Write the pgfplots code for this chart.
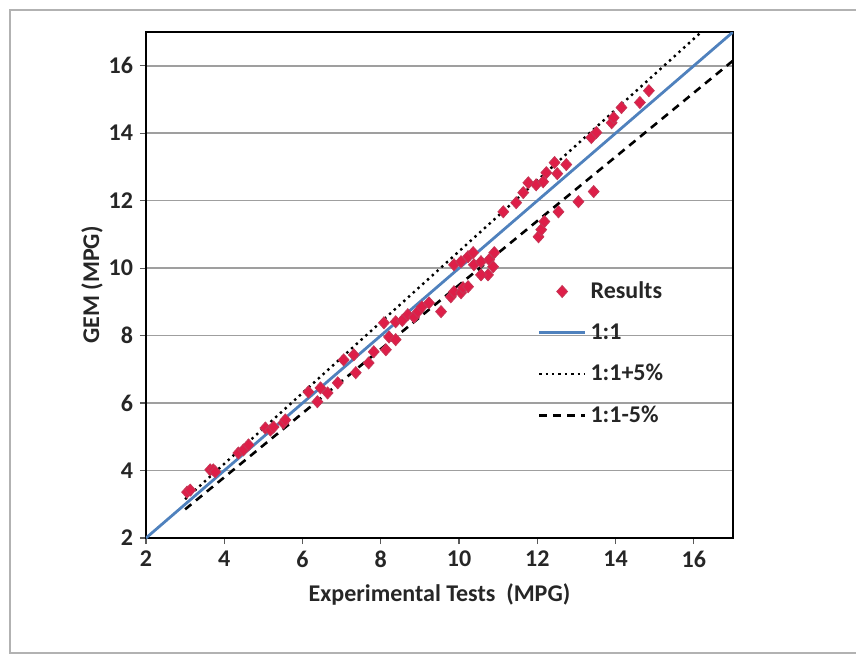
\documentclass[border=0pt]{standalone}
\usepackage{fontspec}
\setmainfont{Carlito}
\usepackage{pgfplots}
\pgfplotsset{compat=1.18}

\definecolor{ptred}{RGB}{222,30,72}
\definecolor{lineblue}{RGB}{79,129,189}

\pgfplotsset{
    gem line legend/.style={legend image code/.code={\draw[##1] (0pt,0pt) -- (23pt,0pt);}},
    gem mark legend/.style={legend image code/.code={\draw[##1] plot coordinates {(11.5pt,0pt)};}},
}

\pgfplotstableread{
x y
3.05 3.36
3.13 3.42
3.64 4.02
3.72 4.02
3.77 3.96
4.36 4.52
4.49 4.61
4.62 4.76
5.05 5.26
5.18 5.20
5.26 5.29
5.51 5.41
5.56 5.50
6.15 6.33
6.38 6.04
6.46 6.45
6.64 6.30
6.90 6.60
7.05 7.28
7.31 7.43
7.36 6.90
7.69 7.19
7.82 7.52
8.08 8.38
8.13 7.58
8.21 7.96
8.38 8.41
8.38 7.88
8.55 8.45
8.69 8.62
8.85 8.55
8.95 8.71
9.05 8.85
9.23 8.97
9.54 8.71
9.79 9.15
9.87 9.30
10.05 9.27
10.10 9.42
10.23 9.45
9.87 10.10
10.05 10.19
10.23 10.34
10.36 10.46
10.38 10.10
10.56 10.19
10.77 10.25
10.90 10.46
10.87 10.04
10.74 9.80
10.56 9.80
11.13 11.67
11.46 11.94
11.64 12.24
11.77 12.53
11.97 12.47
12.15 12.56
12.23 12.83
12.51 12.80
12.44 13.13
12.74 13.07
12.03 10.93
12.10 11.14
12.18 11.38
12.54 11.67
13.05 11.97
13.44 12.27
13.38 13.87
13.51 14.02
13.90 14.31
13.95 14.46
14.15 14.76
14.62 14.91
14.85 15.26
}\results

\begin{document}
\begin{tikzpicture}
\begin{axis}[
    name=ax,
    scale only axis,
    width=293.5pt, height=253pt,
    xmin=2, xmax=17, ymin=2, ymax=17,
    xtick={2,4,...,16}, ytick={2,4,...,16},
    tick align=outside, major tick length=3pt,
    tick style={gray!70!black, line width=0.6pt},
    xtick pos=bottom, ytick pos=left,
    ymajorgrids, grid style={gray!75, line width=0.8pt},
    axis line style={black, line width=0.7pt},
    ticklabel style={font=\fontsize{12}{14}\selectfont\bfseries, text=black!85},
    /pgf/number format/assume math mode=true,
    label style={font=\fontsize{12}{14}\selectfont\bfseries, text=black!85},
    xlabel={Experimental Tests\ \ (MPG)},
    ylabel={GEM (MPG)},
    xlabel style={yshift=-1pt},
    ylabel style={yshift=-4pt},
    legend style={at={(axis cs:11.95,9.85)}, anchor=north west, draw=none, fill=none,
        font=\fontsize{12}{14}\selectfont\bfseries, text=black!85,
        row sep=7pt, cells={anchor=west}, inner xsep=1pt},
    gem line legend,
]
\addplot[only marks, mark=diamond*, mark size=3pt, color=ptred,
    mark options={xscale=1.2, draw=ptred!75!gray, line width=0.4pt}, gem mark legend]
    table {\results};
\addlegendentry{Results}
\addplot[lineblue, line width=1.4pt] coordinates {(2,2) (17,17)};
\addlegendentry{1:1}
\addplot[black, dotted, line width=1.2pt] coordinates {(3,3.15) (16.19,17)};
\addlegendentry{1:1+5\%}
\addplot[black, dashed, line width=1.3pt, dash pattern=on 4pt off 3pt] coordinates {(3,2.85) (17,16.15)};
\addlegendentry{1:1-5\%}
\end{axis}
\path[use as bounding box] ([xshift=-73pt,yshift=-58.5pt]ax.south west) rectangle ([xshift=61.5pt,yshift=16pt]ax.north east);
\draw[gray!60, line width=0.8pt] ([xshift=70pt,yshift=-57.5pt]ax.south east) -| ([xshift=-68pt,yshift=11pt]ax.north west) -- ([xshift=70pt,yshift=11pt]ax.north east);
\end{tikzpicture}
\end{document}
